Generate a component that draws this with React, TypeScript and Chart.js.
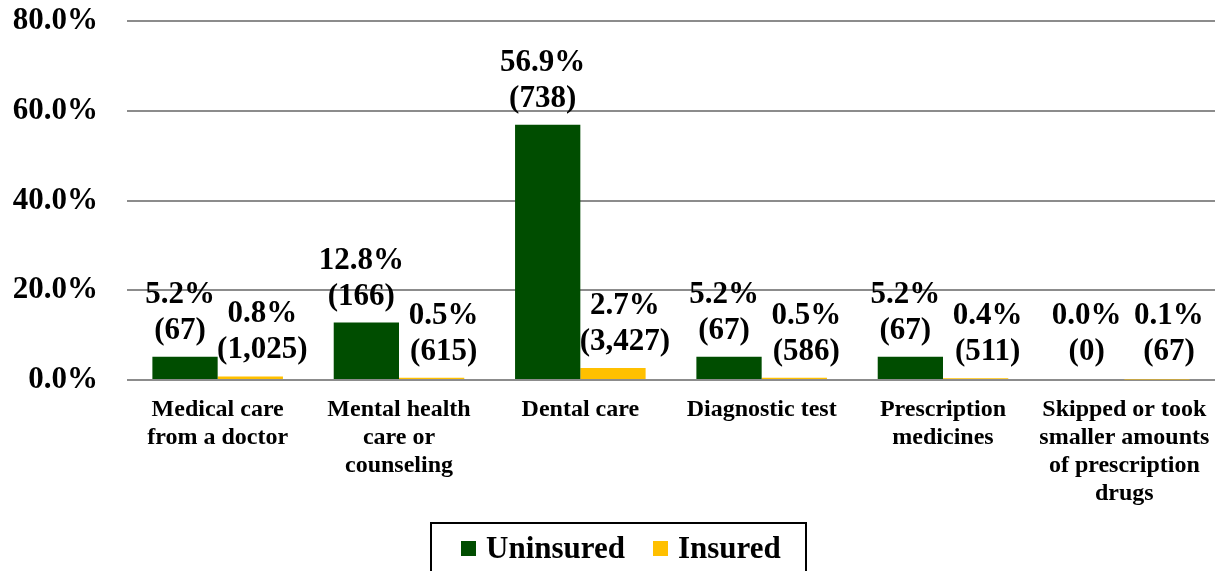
import React, { useEffect, useRef } from "react";
import { Chart, registerables } from "chart.js";

Chart.register(...registerables);

const categories: string[][] = [
  ["Medical care", "from a doctor"],
  ["Mental health", "care or", "counseling"],
  ["Dental care"],
  ["Diagnostic test"],
  ["Prescription", "medicines"],
  ["Skipped or took", "smaller amounts", "of prescription", "drugs"],
];
const uninsuredPct = [5.2, 12.8, 56.9, 5.2, 5.2, 0.0];
const uninsuredN = ["67", "166", "738", "67", "67", "0"];
const insuredPct = [0.8, 0.5, 2.7, 0.5, 0.4, 0.1];
const insuredN = ["1,025", "615", "3,427", "586", "511", "67"];
const yTicks = [0, 20, 40, 60, 80];

const GREEN = "#004d00";
const GOLD = "#ffc000";
const FONT = "'Liberation Serif', 'Times New Roman', serif";

const labelPlugin = {
  id: "barLabels",
  afterDatasetsDraw(chart: any) {
    const ctx = chart.ctx;
    ctx.save();
    ctx.font = `bold 31px ${FONT}`;
    ctx.fillStyle = "#000";
    ctx.textAlign = "center";
    ctx.textBaseline = "middle";
    chart.data.datasets.forEach((ds: any, di: number) => {
      const meta = chart.getDatasetMeta(di);
      const counts = di === 0 ? uninsuredN : insuredN;
      const dx = di === 0 ? -5 : 12;
      meta.data.forEach((el: any, i: number) => {
        const v = ds.data[i] as number;
        const top = el.y;
        const y2 = Math.min(top - 26, 352);
        const y1 = y2 - 36;
        ctx.fillText(`${v.toFixed(1)}%`, el.x + dx, y1);
        ctx.fillText(`(${counts[i]})`, el.x + dx, y2);
      });
    });
    ctx.restore();
  },
};

export default function App() {
  const ref = useRef<HTMLCanvasElement | null>(null);
  useEffect(() => {
    if (!ref.current) return;
    const chart = new Chart(ref.current, {
      type: "bar",
      data: {
        labels: categories,
        datasets: [
          {
            label: "Uninsured",
            data: uninsuredPct,
            backgroundColor: GREEN,
            categoryPercentage: 0.72,
            barPercentage: 1,
          },
          {
            label: "Insured",
            data: insuredPct,
            backgroundColor: GOLD,
            categoryPercentage: 0.72,
            barPercentage: 1,
          },
        ],
      },
      options: {
        animation: false,
        responsive: true,
        maintainAspectRatio: false,
        layout: { padding: { top: 21, right: 0, left: 0, bottom: 0 } },
        plugins: {
          legend: { display: false },
          tooltip: { enabled: false },
        },
        scales: {
          x: {
            grid: { display: false, drawTicks: false },
            border: { display: false },
            ticks: {
              color: "#000",
              font: { family: FONT, size: 24, weight: "bold", lineHeight: 1.17 },
              padding: 16,
              maxRotation: 0,
              autoSkip: false,
            },
            afterFit(scale: any) {
              scale.height = 191;
              scale.paddingLeft = 0;
              scale.paddingRight = 0;
            },
          },
          y: {
            min: 0,
            max: 80,
            afterBuildTicks(scale: any) {
              scale.ticks = yTicks.map((v) => ({ value: v }));
            },
            grid: { color: "#8c8c8c", lineWidth: 2, drawTicks: false },
            border: { display: false },
            ticks: {
              color: "#000",
              font: { family: FONT, size: 31, weight: "bold" },
              padding: 29,
              callback: (v: any) => `${Number(v).toFixed(1)}%`,
            },
            afterFit(scale: any) {
              scale.width = 127;
              scale.paddingTop = 0;
              scale.paddingBottom = 0;
            },
          },
        },
      },
      plugins: [labelPlugin],
    });
    return () => chart.destroy();
  }, []);

  const textStyle: React.CSSProperties = {
    fontFamily: FONT,
    fontWeight: "bold",
    fontSize: 31,
    lineHeight: "31px",
    color: "#000",
    whiteSpace: "nowrap",
  };
  const square = (c: string): React.CSSProperties => ({
    width: 15,
    height: 15,
    background: c,
    marginTop: 9,
  });

  return (
    <div style={{ position: "absolute", left: 0, top: 0, width: 1215, height: 571, background: "#fff", overflow: "hidden" }}>
      <canvas ref={ref} />
      <div
        style={{
          position: "absolute",
          left: 430,
          top: 522,
          width: 377,
          height: 70,
          border: "2px solid #000",
          boxSizing: "border-box",
        }}
      >
        <div
          style={{
            position: "absolute",
            left: 29,
            top: 8,
            display: "flex",
            alignItems: "flex-start",
          }}
        >
          <div style={square(GREEN)} />
          <span style={{ ...textStyle, marginLeft: 10 }}>Uninsured</span>
          <div style={{ ...square(GOLD), marginLeft: 28 }} />
          <span style={{ ...textStyle, marginLeft: 10 }}>Insured</span>
        </div>
      </div>
    </div>
  );
}
